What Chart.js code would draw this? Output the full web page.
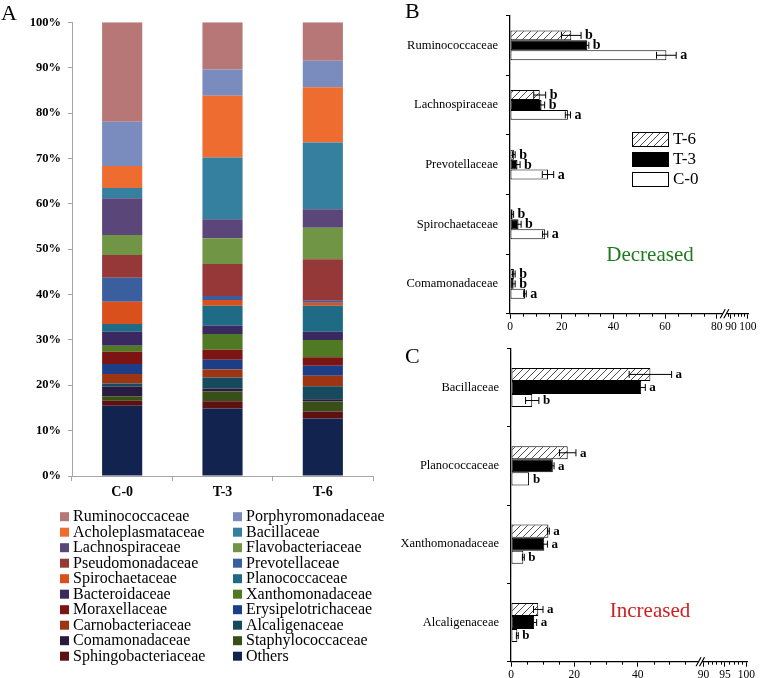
<!DOCTYPE html>
<html><head><meta charset="utf-8">
<script src="https://cdn.jsdelivr.net/npm/chart.js@4.4.1/dist/chart.umd.min.js"></script>
<style>
html,body{margin:0;padding:0;background:#fff;width:760px;height:678px;overflow:hidden}
canvas{position:absolute}
</style></head>
<body>
<canvas id="cA" width="400" height="678" style="left:0px;top:0px"></canvas>
<canvas id="cB" width="380" height="340" style="left:380px;top:0px"></canvas>
<canvas id="cC" width="380" height="348" style="left:380px;top:330px"></canvas>
<script>
// ---------- Panel A data (families listed bottom of stack -> top) ----------
const samplesA = ['C-0', 'T-3', 'T-6'];
const familiesA = ['Others','Sphingobacteriaceae','Staphylococcaceae','Comamonadaceae','Alcaligenaceae',
  'Carnobacteriaceae','Erysipelotrichaceae','Moraxellaceae','Xanthomonadaceae','Bacteroidaceae',
  'Planococcaceae','Spirochaetaceae','Prevotellaceae','Pseudomonadaceae','Flavobacteriaceae',
  'Lachnospiraceae','Bacillaceae','Acholeplasmataceae','Porphyromonadaceae','Ruminococcaceae'];
const valuesC0 = [15.5,1.1,1.0,2.1,0.7,2.1,2.2,2.7,1.3,3.1,1.7,4.9,5.3,5.0,4.4,8.1,2.3,4.8,9.8,21.9];
const valuesT3 = [14.9,1.6,2.1,0.7,2.4,1.8,2.1,2.2,3.5,1.8,4.4,1.3,0.9,7.0,5.7,4.2,13.6,13.6,5.8,10.4];
const valuesT6 = [12.7,1.5,2.2,0.5,2.9,2.3,2.2,1.9,3.8,1.8,5.7,0.7,0.4,9.2,6.9,4.1,14.7,12.2,5.8,8.5];
const yTicksA = [0,10,20,30,40,50,60,70,80,90,100];
const paletteA = ['#13234F','#5E1111','#384F18','#291A40','#164A5C','#9E3512','#1D3E86','#7C1414','#4F7A23','#3A2960',
  '#1F6A85','#D9501C','#3A5E9E','#973838','#6F9545','#5B4679','#35809F','#EE6C30','#7A8BBD','#B77776'];

// ---------- Panel B data ----------
const categoriesB = ['Ruminococcaceae','Lachnospiraceae','Prevotellaceae','Spirochaetaceae','Comamonadaceae'];
const seriesNames = ['T-6','T-3','C-0'];
const bT6 = [23.7, 11.5, 1.5, 1.0, 1.5];
const bT3 = [29.9, 12.2, 2.9, 3.3, 1.4];
const bC0 = [60.5, 22.4, 14.7, 13.6, 5.8];
const bErrT6 = [3.8, 2.3, 0.5, 0.4, 0.5];
const bErrT3 = [0.6, 1.2, 1.0, 1.0, 0.6];
const bErrC0 = [3.8, 1.0, 2.2, 1.0, 0.5];
const bLetT6 = ['b','b','b','b','b'];
const bLetT3 = ['b','b','b','b','b'];
const bLetC0 = ['a','a','a','a','a'];
const tickPosB = [0,20,40,60,80,85.5,92.0];
const tickLabelsB = ['0','20','40','60','80','90','100'];

// ---------- Panel C data ----------
const categoriesC = ['Bacillaceae','Planococcaceae','Xanthomonadaceae','Alcaligenaceae'];
const cT6 = [44.0, 17.9, 11.8, 8.6];
const cT3 = [41.1, 13.2, 10.5, 7.3];
const cC0 = [6.7, 5.7, 3.9, 2.0];
const cErrT6 = [6.7, 2.6, 0.3, 1.5];
const cErrT3 = [1.3, 0.4, 1.0, 0.8];
const cErrC0 = [2.1, 0.0, 0.3, 0.3];
const cLetT6 = ['a','a','a','a'];
const cLetT3 = ['a','a','a','a'];
const cLetC0 = ['b','b','b','b'];
const tickPosC = [0,20,40,60.8,67.55,74.3];
const tickLabelsC = ['0','20','40','90','95','100'];

const SERIF = '"Liberation Serif","Times New Roman",serif';
Chart.defaults.font.family = SERIF;
Chart.defaults.color = '#000';

function hatchPattern(){
  const s = 7, c = document.createElement('canvas');
  c.width = s; c.height = s;
  const x = c.getContext('2d');
  x.fillStyle = '#fff'; x.fillRect(0,0,s,s);
  x.strokeStyle = '#222'; x.lineWidth = 0.8;
  x.beginPath();
  x.moveTo(0,s); x.lineTo(s,0);
  x.moveTo(-1,1); x.lineTo(1,-1);
  x.moveTo(s-1,s+1); x.lineTo(s+1,s-1);
  x.stroke();
  return x.createPattern(c,'repeat');
}

// ================= Panel A =================
const sampleSeries = [valuesC0, valuesT3, valuesT6];
const dsA = familiesA.map((f,i)=>({
  label: f,
  data: sampleSeries.map(s=>s[i]),
  backgroundColor: paletteA[i],
  borderWidth: 0,
  barPercentage: 0.4,
  categoryPercentage: 1.0
}));

const panelAText = {
  id:'panelAText',
  afterDraw(chart){
    const ctx = chart.ctx;
    ctx.save();
    ctx.fillStyle = '#000';
    ctx.font = '22px ' + SERIF;
    ctx.textBaseline = 'alphabetic'; ctx.textAlign = 'left';
    ctx.fillText('A', 1, 20);
    // legend: row-major, top of stack first
    const n = chart.data.datasets.length;
    ctx.font = '16px ' + SERIF;
    ctx.textBaseline = 'middle';
    for(let k=0;k<n;k++){
      const ds = chart.data.datasets[n-1-k];
      const row = Math.floor(k/2), col = k%2;
      const y = 516.7 + row*15.5;
      const bx = col===0 ? 60 : 233;
      ctx.fillStyle = ds.backgroundColor;
      ctx.fillRect(bx, y-4.5, 9, 9);
      ctx.fillStyle = '#000';
      ctx.fillText(ds.label, bx+13, y+0.5);
    }
    ctx.restore();
  }
};

new Chart(document.getElementById('cA'), {
  type:'bar',
  data:{ labels: samplesA, datasets: dsA },
  options:{
    responsive:false, animation:false, devicePixelRatio:1, events:[],
    layout:{ padding:{ left:0, right:27, top:22.3, bottom:172 } },
    plugins:{ legend:{display:false}, tooltip:{enabled:false} },
    scales:{
      x:{ stacked:true,
        grid:{ drawOnChartArea:false, tickLength:5, color:'#A6A6A6', offset:true },
        border:{ color:'#A6A6A6' },
        ticks:{ font:{ size:14, weight:'bold' }, padding:3, color:'#000' },
        afterFit(s){ s.height = 30; } },
      y:{ stacked:true, min:0, max:100,
        afterBuildTicks(s){ s.ticks = yTicksA.map(v=>({value:v})); },
        grid:{ drawOnChartArea:false, tickLength:4, color:'#A6A6A6' },
        border:{ color:'#A6A6A6' },
        ticks:{ font:{ size:12.5, weight:'bold' }, padding:7, color:'#000', callback:v=>v+'%' },
        afterFit(s){ s.width = 72; } }
    }
  },
  plugins:[panelAText]
});

// ================= Panels B & C helpers =================
const hatch = hatchPattern();
function seriesDatasets(t6,t3,c0){
  const vals=[t6,t3,c0], fills=[hatch,'#000','#fff'];
  return vals.map((v,i)=>({ label: seriesNames[i], data:v, backgroundColor:fills[i],
    borderColor:'#000', borderWidth:1, borderSkipped:false,
    barPercentage:1.0, categoryPercentage:0.5 }));
}
function errorPlugin(errs, letters, fontSize){
  return { id:'errs',
    afterDatasetsDraw(chart){
      const ctx=chart.ctx, xs=chart.scales.x;
      ctx.save();
      ctx.strokeStyle='#000'; ctx.lineWidth=1;
      chart.data.datasets.forEach((ds,i)=>{
        const meta=chart.getDatasetMeta(i);
        meta.data.forEach((bar,j)=>{
          const v=ds.data[j], e=errs[i][j], y=bar.y;
          const x1=xs.getPixelForValue(v-e), x2=xs.getPixelForValue(v+e);
          if(e>0){
            ctx.beginPath();
            ctx.moveTo(x1,y); ctx.lineTo(x2,y);
            ctx.moveTo(x1,y-3.5); ctx.lineTo(x1,y+3.5);
            ctx.moveTo(x2,y-3.5); ctx.lineTo(x2,y+3.5);
            ctx.stroke();
          }
          ctx.fillStyle='#000';
          ctx.font='bold '+fontSize+'px '+SERIF;
          ctx.textBaseline='middle'; ctx.textAlign='left';
          ctx.fillText(letters[i][j], Math.max(x2,bar.x)+4, y+0.5);
        });
      });
      ctx.restore();
    }
  };
}
function axisDecor(minor, breakA, breakB, letter, letterY, word, wordColor, wordY, legend){
  return { id:'decor',
    afterDraw(chart){
      const ctx=chart.ctx, xs=chart.scales.x, ca=chart.chartArea, yb=ca.bottom;
      ctx.save();
      ctx.strokeStyle='#000'; ctx.lineWidth=1;
      ctx.beginPath();
      minor.forEach(v=>{ const x=Math.round(xs.getPixelForValue(v))+0.5; ctx.moveTo(x,yb); ctx.lineTo(x,yb+3); });
      ctx.stroke();
      // break marks
      const xa=xs.getPixelForValue(breakA), xb=xs.getPixelForValue(breakB);
      ctx.fillStyle='#fff'; ctx.fillRect(xa, yb-2, xb-xa, 4);
      ctx.lineWidth=1.2; ctx.beginPath();
      [xa,xb].forEach(x=>{ ctx.moveTo(x-2.5,yb+4.5); ctx.lineTo(x+2.5,yb-4.5); });
      ctx.stroke();
      // panel letter
      ctx.fillStyle='#000'; ctx.font='22px '+SERIF; ctx.textAlign='left'; ctx.textBaseline='alphabetic';
      ctx.fillText(letter, 25, letterY);
      // word
      ctx.fillStyle=wordColor; ctx.font='21px '+SERIF; ctx.textAlign='center'; ctx.textBaseline='middle';
      ctx.fillText(word, 270, wordY);
      if(legend){
        const fills=[hatch,'#000','#fff'], ys=[132,152,172];
        ctx.font='17px '+SERIF; ctx.textAlign='left';
        chart.data.datasets.forEach((ds,i)=>{
          ctx.fillStyle=fills[i]; ctx.fillRect(252, ys[i], 36, 14);
          ctx.strokeStyle='#000'; ctx.lineWidth=1; ctx.strokeRect(252.5, ys[i]+0.5, 36, 14);
          ctx.fillStyle='#000'; ctx.fillText(ds.label, 293, ys[i]+8);
        });
      }
      ctx.restore();
    }
  };
}
function hbarOptions(cats, maxV, tickPos, tickLabels, yWidth, xHeight, pad){
  return {
    indexAxis:'y', responsive:false, animation:false, devicePixelRatio:1, events:[],
    layout:{ padding:pad },
    plugins:{ legend:{display:false}, tooltip:{enabled:false} },
    scales:{
      y:{ type:'category', labels:cats, offset:true,
        grid:{ drawOnChartArea:false, tickLength:4, color:'#000', offset:true, lineWidth:1 },
        border:{ color:'#000', width:1.3 },
        ticks:{ font:{ size:12.5 }, color:'#000', padding:8 },
        afterFit(s){ s.width = yWidth; } },
      x:{ type:'linear', min:0, max:maxV,
        afterBuildTicks(s){ s.ticks = tickPos.map(v=>({value:v})); },
        grid:{ drawOnChartArea:false, tickLength:5, color:'#000' },
        border:{ color:'#000', width:1.3 },
        ticks:{ font:{ size:11.5 }, color:'#000', padding:1, autoSkip:false, maxRotation:0,
          callback:(v,i)=>tickLabels[i] },
        afterFit(s){ s.height = xHeight; } }
    }
  };
}

// ================= Panel B =================
const minorB = [5,10,15,25,30,35,45,50,55,65,70,75,84.4,86.8,88.1,89.4,90.7];
new Chart(document.getElementById('cB'), {
  type:'bar',
  data:{ labels:categoriesB, datasets:seriesDatasets(bT6,bT3,bC0) },
  options: hbarOptions(categoriesB, 92.2, tickPosB, tickLabelsB, 130, 20,
    { left:0, right:11.7, top:5, bottom:6.3 }),
  plugins:[ errorPlugin([bErrT6,bErrT3,bErrC0],[bLetT6,bLetT3,bLetC0],14),
    axisDecor(minorB, 82.3, 83.7, 'B', 18, 'Decreased', '#1E7A1E', 255, true) ]
});

// ================= Panel C =================
const minorC = [5,10,15,25,30,35,45,50,55];
for(let k=1;k<10;k++){ if(k!==5) minorC.push(60.8 + k*(74.3-60.8)/10); }
new Chart(document.getElementById('cC'), {
  type:'bar',
  data:{ labels:categoriesC, datasets:seriesDatasets(cT6,cT3,cC0) },
  options: hbarOptions(categoriesC, 74.5, tickPosC, tickLabelsC, 131, 20,
    { left:0, right:13, top:18.3, bottom:-3.7 }),
  plugins:[ errorPlugin([cErrT6,cErrT3,cErrC0],[cLetT6,cLetT3,cLetC0],13),
    axisDecor(minorC, 59.2, 60.3, 'C', 33, 'Increased', '#D01F1F', 281.7, false) ]
});
</script>
</body></html>
